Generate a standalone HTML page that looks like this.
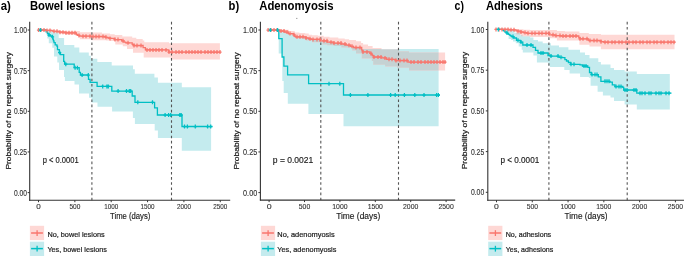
<!DOCTYPE html>
<html><head><meta charset="utf-8"><style>
html,body{margin:0;padding:0;background:#fff;}
svg{display:block;will-change:transform;}
text{font-family:"Liberation Sans",sans-serif;}
</style></head><body>
<svg width="685" height="257" viewBox="0 0 685 257">
<rect width="685" height="257" fill="#fff"/>
<rect x="296.1" y="17.9" width="1.3" height="1" fill="#999"/>
<g>
<polygon points="46.40,30.00 47.50,30.00 47.50,30.80 50.00,30.80 50.00,31.60 53.40,31.60 53.40,32.40 58.70,32.40 58.70,37.90 64.10,37.90 64.10,45.00 74.30,45.00 74.30,47.60 79.30,47.60 79.30,52.60 88.80,52.60 88.80,55.80 90.80,55.80 90.80,58.80 97.30,58.80 97.30,62.00 111.70,62.00 111.70,65.50 133.00,65.50 133.00,69.30 134.80,69.30 134.80,73.70 154.40,73.70 154.40,77.50 157.90,77.50 157.90,82.80 181.80,82.80 181.80,87.20 211.10,87.20 211.10,150.70 181.80,150.70 181.80,137.90 157.90,137.90 157.90,130.60 154.70,130.60 154.70,123.90 134.90,123.90 134.90,117.90 132.90,117.90 132.90,111.60 112.10,111.60 112.10,106.80 97.50,106.80 97.50,102.50 91.60,102.50 91.60,97.80 89.00,97.80 89.00,93.40 79.00,93.40 79.00,84.60 74.50,84.60 74.50,81.10 64.90,81.10 64.90,77.00 64.00,77.00 64.00,70.00 59.00,70.00 59.00,62.40 57.30,62.40 57.30,56.60 54.00,56.60 54.00,47.80 52.30,47.80 52.30,43.20 48.80,43.20 48.80,38.50 47.30,38.50 47.30,34.40 46.40,34.40 46.40,30.00 46.40,30.00" fill="#C4EBEE"/>
<polygon points="38.50,30.00 53.00,30.00 53.00,30.50 60.00,30.50 60.00,31.00 75.80,31.00 75.80,31.10 79.80,31.10 79.80,32.30 91.50,32.30 91.50,32.50 102.00,32.50 102.00,33.40 110.00,33.40 110.00,34.30 114.70,34.30 114.70,34.90 122.30,34.90 122.30,36.40 132.20,36.40 132.20,37.80 136.30,37.80 136.30,39.00 142.70,39.00 142.70,40.50 144.30,40.50 144.30,42.30 169.00,42.30 169.00,43.30 219.90,43.30 219.90,59.60 170.80,59.60 170.80,57.40 143.70,57.40 143.70,52.80 133.00,52.80 133.00,49.00 127.00,49.00 127.00,46.30 122.80,46.30 122.80,44.60 115.30,44.60 115.30,41.00 110.00,41.00 110.00,40.60 106.00,40.60 106.00,40.30 91.50,40.30 91.50,39.30 79.80,39.30 79.80,35.80 75.80,35.80 75.80,34.80 65.00,34.80 65.00,34.00 59.40,34.00 59.40,33.00 53.50,33.00 53.50,31.80 50.00,31.80 50.00,30.80 46.00,30.80 46.00,30.00 38.50,30.00" fill="#FED8D5"/>
<clipPath id="clipa"><polygon points="38.50,30.00 53.00,30.00 53.00,30.50 60.00,30.50 60.00,31.00 75.80,31.00 75.80,31.10 79.80,31.10 79.80,32.30 91.50,32.30 91.50,32.50 102.00,32.50 102.00,33.40 110.00,33.40 110.00,34.30 114.70,34.30 114.70,34.90 122.30,34.90 122.30,36.40 132.20,36.40 132.20,37.80 136.30,37.80 136.30,39.00 142.70,39.00 142.70,40.50 144.30,40.50 144.30,42.30 169.00,42.30 169.00,43.30 219.90,43.30 219.90,59.60 170.80,59.60 170.80,57.40 143.70,57.40 143.70,52.80 133.00,52.80 133.00,49.00 127.00,49.00 127.00,46.30 122.80,46.30 122.80,44.60 115.30,44.60 115.30,41.00 110.00,41.00 110.00,40.60 106.00,40.60 106.00,40.30 91.50,40.30 91.50,39.30 79.80,39.30 79.80,35.80 75.80,35.80 75.80,34.80 65.00,34.80 65.00,34.00 59.40,34.00 59.40,33.00 53.50,33.00 53.50,31.80 50.00,31.80 50.00,30.80 46.00,30.80 46.00,30.00 38.50,30.00"/></clipPath>
<polygon points="46.40,30.00 47.50,30.00 47.50,30.80 50.00,30.80 50.00,31.60 53.40,31.60 53.40,32.40 58.70,32.40 58.70,37.90 64.10,37.90 64.10,45.00 74.30,45.00 74.30,47.60 79.30,47.60 79.30,52.60 88.80,52.60 88.80,55.80 90.80,55.80 90.80,58.80 97.30,58.80 97.30,62.00 111.70,62.00 111.70,65.50 133.00,65.50 133.00,69.30 134.80,69.30 134.80,73.70 154.40,73.70 154.40,77.50 157.90,77.50 157.90,82.80 181.80,82.80 181.80,87.20 211.10,87.20 211.10,150.70 181.80,150.70 181.80,137.90 157.90,137.90 157.90,130.60 154.70,130.60 154.70,123.90 134.90,123.90 134.90,117.90 132.90,117.90 132.90,111.60 112.10,111.60 112.10,106.80 97.50,106.80 97.50,102.50 91.60,102.50 91.60,97.80 89.00,97.80 89.00,93.40 79.00,93.40 79.00,84.60 74.50,84.60 74.50,81.10 64.90,81.10 64.90,77.00 64.00,77.00 64.00,70.00 59.00,70.00 59.00,62.40 57.30,62.40 57.30,56.60 54.00,56.60 54.00,47.80 52.30,47.80 52.30,43.20 48.80,43.20 48.80,38.50 47.30,38.50 47.30,34.40 46.40,34.40 46.40,30.00 46.40,30.00" fill="#C5D2D3" clip-path="url(#clipa)"/>
<line x1="91.9" y1="21.8" x2="91.9" y2="200.2" stroke="#555" stroke-width="1.1" stroke-dasharray="2.6,2.575"/>
<line x1="171.5" y1="21.8" x2="171.5" y2="200.2" stroke="#555" stroke-width="1.1" stroke-dasharray="2.6,2.575"/>
<path d="M38.50,30.00H46.10V31.80H47.50V33.50H48.80V35.00H50.50V36.00H51.70V36.80H52.80V39.10H53.40V40.80H54.00V42.60H55.20V44.90H56.90V46.10H57.50V49.60H59.30V52.50H60.40V54.60H63.70V61.30H64.60V64.20H74.20V67.70H79.20V72.30H80.40V75.00H88.50V79.30H90.10V82.30H97.10V86.40H111.80V91.10H132.20V96.00H135.00V102.30H154.60V107.90H157.40V115.00H182.00V126.50H212.50" fill="none" stroke="#00BFC4" stroke-width="1.3" stroke-linejoin="miter"/>
<path d="M38.50,30.10H45.90V30.40H52.00V30.90H53.50V31.30H59.40V32.20H65.20V32.80H76.30V34.50H77.50V35.40H79.30V36.20H91.50V36.50H105.50V37.30H108.00V38.00H110.00V38.40H114.70V39.60H121.70V40.80H124.00V42.20H125.80V42.80H132.20V44.30H134.00V45.50H143.10V47.60H145.40V49.90H168.80V52.10H220.30" fill="none" stroke="#F8766D" stroke-width="1.3" stroke-linejoin="miter"/>
<path d="M38.50,28.10V32.10M36.90,30.10H40.10M41.00,28.10V32.10M39.40,30.10H42.60M44.00,28.10V32.10M42.40,30.10H45.60M47.00,28.40V32.40M45.40,30.40H48.60M50.00,28.40V32.40M48.40,30.40H51.60M54.00,29.30V33.30M52.40,31.30H55.60M57.00,29.30V33.30M55.40,31.30H58.60M60.00,30.20V34.20M58.40,32.20H61.60M63.00,30.20V34.20M61.40,32.20H64.60M66.00,30.80V34.80M64.40,32.80H67.60M69.00,30.80V34.80M67.40,32.80H70.60M72.00,30.80V34.80M70.40,32.80H73.60M75.00,30.80V34.80M73.40,32.80H76.60M79.00,33.40V37.40M77.40,35.40H80.60M83.00,34.20V38.20M81.40,36.20H84.60M86.00,34.20V38.20M84.40,36.20H87.60M90.00,34.20V38.20M88.40,36.20H91.60M93.00,34.50V38.50M91.40,36.50H94.60M96.00,34.50V38.50M94.40,36.50H97.60M99.00,34.50V38.50M97.40,36.50H100.60M103.00,34.50V38.50M101.40,36.50H104.60M106.00,35.30V39.30M104.40,37.30H107.60M110.00,36.40V40.40M108.40,38.40H111.60M115.00,37.60V41.60M113.40,39.60H116.60M118.00,37.60V41.60M116.40,39.60H119.60M123.00,38.80V42.80M121.40,40.80H124.60M128.00,40.80V44.80M126.40,42.80H129.60M134.00,43.50V47.50M132.40,45.50H135.60M137.00,43.50V47.50M135.40,45.50H138.60M141.00,43.50V47.50M139.40,45.50H142.60M147.00,47.90V51.90M145.40,49.90H148.60M150.00,47.90V51.90M148.40,49.90H151.60M153.00,47.90V51.90M151.40,49.90H154.60M156.00,47.90V51.90M154.40,49.90H157.60M159.00,47.90V51.90M157.40,49.90H160.60M162.00,47.90V51.90M160.40,49.90H163.60M166.00,47.90V51.90M164.40,49.90H167.60M169.00,50.10V54.10M167.40,52.10H170.60M172.00,50.10V54.10M170.40,52.10H173.60M176.00,50.10V54.10M174.40,52.10H177.60M179.00,50.10V54.10M177.40,52.10H180.60M182.00,50.10V54.10M180.40,52.10H183.60M186.00,50.10V54.10M184.40,52.10H187.60M189.00,50.10V54.10M187.40,52.10H190.60M192.00,50.10V54.10M190.40,52.10H193.60M195.00,50.10V54.10M193.40,52.10H196.60M198.00,50.10V54.10M196.40,52.10H199.60M201.00,50.10V54.10M199.40,52.10H202.60M205.00,50.10V54.10M203.40,52.10H206.60M208.00,50.10V54.10M206.40,52.10H209.60M211.00,50.10V54.10M209.40,52.10H212.60M214.00,50.10V54.10M212.40,52.10H215.60M217.00,50.10V54.10M215.40,52.10H218.60M220.00,50.10V54.10M218.40,52.10H221.60" stroke="#F8766D" stroke-width="1.25" fill="none"/>
<path d="M40.30,28.00V32.00M38.70,30.00H41.90M49.00,33.00V37.00M47.40,35.00H50.60M52.50,34.80V38.80M50.90,36.80H54.10M59.60,50.50V54.50M58.00,52.50H61.20M65.80,62.20V66.20M64.20,64.20H67.40M75.10,65.70V69.70M73.50,67.70H76.70M77.40,65.70V69.70M75.80,67.70H79.00M82.10,73.00V77.00M80.50,75.00H83.70M88.30,73.00V77.00M86.70,75.00H89.90M102.70,84.40V88.40M101.10,86.40H104.30M106.90,84.40V88.40M105.30,86.40H108.50M108.30,84.40V88.40M106.70,86.40H109.90M118.10,89.10V93.10M116.50,91.10H119.70M126.50,89.10V93.10M124.90,91.10H128.10M129.30,89.10V93.10M127.70,91.10H130.90M130.70,89.10V93.10M129.10,91.10H132.30M137.80,100.30V104.30M136.20,102.30H139.40M152.50,100.30V104.30M150.90,102.30H154.10M165.10,113.00V117.00M163.50,115.00H166.70M168.60,113.00V117.00M167.00,115.00H170.20M170.70,113.00V117.00M169.10,115.00H172.30M179.80,113.00V117.00M178.20,115.00H181.40M181.20,113.00V117.00M179.60,115.00H182.80M184.50,124.50V128.50M182.90,126.50H186.10M187.40,124.50V128.50M185.80,126.50H189.00M195.30,124.50V128.50M193.70,126.50H196.90M207.60,124.50V128.50M206.00,126.50H209.20M210.70,124.50V128.50M209.10,126.50H212.30" stroke="#00BFC4" stroke-width="1.25" fill="none"/>
<line x1="29.7" y1="21.8" x2="29.7" y2="200.7" stroke="#333" stroke-width="1.1"/>
<line x1="29.2" y1="200.2" x2="230.2" y2="200.2" stroke="#333" stroke-width="1.1"/>
<line x1="27.7" y1="30.0" x2="29.7" y2="30.0" stroke="#333" stroke-width="1"/>
<text x="26.9" y="33.0" font-size="8.3" text-anchor="end" textLength="13" lengthAdjust="spacingAndGlyphs" fill="#333" stroke="#333" stroke-width="0.12">1.00</text>
<line x1="27.7" y1="70.65" x2="29.7" y2="70.65" stroke="#333" stroke-width="1"/>
<text x="26.9" y="73.65" font-size="8.3" text-anchor="end" textLength="13" lengthAdjust="spacingAndGlyphs" fill="#333" stroke="#333" stroke-width="0.12">0.75</text>
<line x1="27.7" y1="111.3" x2="29.7" y2="111.3" stroke="#333" stroke-width="1"/>
<text x="26.9" y="114.3" font-size="8.3" text-anchor="end" textLength="13" lengthAdjust="spacingAndGlyphs" fill="#333" stroke="#333" stroke-width="0.12">0.50</text>
<line x1="27.7" y1="151.95" x2="29.7" y2="151.95" stroke="#333" stroke-width="1"/>
<text x="26.9" y="154.95" font-size="8.3" text-anchor="end" textLength="13" lengthAdjust="spacingAndGlyphs" fill="#333" stroke="#333" stroke-width="0.12">0.25</text>
<line x1="27.7" y1="192.6" x2="29.7" y2="192.6" stroke="#333" stroke-width="1"/>
<text x="26.9" y="195.6" font-size="8.3" text-anchor="end" textLength="13" lengthAdjust="spacingAndGlyphs" fill="#333" stroke="#333" stroke-width="0.12">0.00</text>
<line x1="38.5" y1="200.2" x2="38.5" y2="202.2" stroke="#333" stroke-width="1"/>
<text x="38.5" y="208.8" font-size="8" text-anchor="middle" textLength="4.5" lengthAdjust="spacingAndGlyphs" fill="#333" stroke="#333" stroke-width="0.12">0</text>
<line x1="74.85" y1="200.2" x2="74.85" y2="202.2" stroke="#333" stroke-width="1"/>
<text x="74.85" y="208.8" font-size="8" text-anchor="middle" textLength="10.9" lengthAdjust="spacingAndGlyphs" fill="#333" stroke="#333" stroke-width="0.12">500</text>
<line x1="111.2" y1="200.2" x2="111.2" y2="202.2" stroke="#333" stroke-width="1"/>
<text x="111.2" y="208.8" font-size="8" text-anchor="middle" textLength="14.0" lengthAdjust="spacingAndGlyphs" fill="#333" stroke="#333" stroke-width="0.12">1000</text>
<line x1="147.55" y1="200.2" x2="147.55" y2="202.2" stroke="#333" stroke-width="1"/>
<text x="147.55" y="208.8" font-size="8" text-anchor="middle" textLength="14.0" lengthAdjust="spacingAndGlyphs" fill="#333" stroke="#333" stroke-width="0.12">1500</text>
<line x1="183.9" y1="200.2" x2="183.9" y2="202.2" stroke="#333" stroke-width="1"/>
<text x="183.9" y="208.8" font-size="8" text-anchor="middle" textLength="14.0" lengthAdjust="spacingAndGlyphs" fill="#333" stroke="#333" stroke-width="0.12">2000</text>
<line x1="220.25" y1="200.2" x2="220.25" y2="202.2" stroke="#333" stroke-width="1"/>
<text x="220.25" y="208.8" font-size="8" text-anchor="middle" textLength="14.0" lengthAdjust="spacingAndGlyphs" fill="#333" stroke="#333" stroke-width="0.12">2500</text>
<text x="130.2" y="219.2" font-size="8.5" text-anchor="middle" textLength="40.3" lengthAdjust="spacingAndGlyphs" fill="#1a1a1a" stroke="#1a1a1a" stroke-width="0.15">Time (days)</text>
<text transform="translate(10.7,169.6) rotate(-90)" x="0" y="0" font-size="7.7" fill="#1a1a1a" stroke="#1a1a1a" stroke-width="0.2" textLength="117.6" lengthAdjust="spacingAndGlyphs">Probability of no repeat surgery</text>
<text x="42.7" y="163.1" font-size="8.6" textLength="35.9" lengthAdjust="spacingAndGlyphs" fill="#1a1a1a" stroke="#1a1a1a" stroke-width="0.15">p &lt; 0.0001</text>
<text x="0.8" y="10.1" font-size="12" font-weight="bold" textLength="10.1" lengthAdjust="spacingAndGlyphs" fill="#000">a)</text>
<text x="29.9" y="10.1" font-size="12" font-weight="bold" textLength="75.0" lengthAdjust="spacingAndGlyphs" fill="#000">Bowel lesions</text>
<rect x="29.9" y="225.8" width="14.2" height="14.3" fill="#FED8D5"/>
<rect x="29.9" y="241.7" width="14.2" height="14.3" fill="#C4EBEE"/>
<line x1="31.099999999999998" y1="233" x2="42.9" y2="233" stroke="#F8766D" stroke-width="1.5"/>
<line x1="37.1" y1="230.2" x2="37.1" y2="236" stroke="#F8766D" stroke-width="1.3"/>
<line x1="31.099999999999998" y1="248.6" x2="42.9" y2="248.6" stroke="#00BFC4" stroke-width="1.5"/>
<line x1="37.1" y1="245.8" x2="37.1" y2="251.6" stroke="#00BFC4" stroke-width="1.3"/>
<text x="47.4" y="236.6" font-size="7.6" textLength="57.3" lengthAdjust="spacingAndGlyphs" fill="#1a1a1a" stroke="#1a1a1a" stroke-width="0.2">No, bowel lesions</text>
<text x="47.4" y="252.3" font-size="7.6" textLength="59.5" lengthAdjust="spacingAndGlyphs" fill="#1a1a1a" stroke="#1a1a1a" stroke-width="0.2">Yes, bowel lesions</text>
</g>
<g>
<polygon points="278.60,30.00 280.00,30.00 280.00,31.50 285.30,31.50 285.30,33.00 288.80,33.00 288.80,34.50 293.50,34.50 293.50,35.50 295.30,35.50 295.30,37.00 305.80,37.00 305.80,38.30 311.00,38.30 311.00,39.50 320.20,39.50 320.20,40.90 327.20,40.90 327.20,42.20 333.60,42.20 333.60,43.10 341.20,43.10 341.20,44.00 346.20,44.00 346.20,45.20 350.50,45.20 350.50,46.30 353.50,46.30 353.50,47.50 361.70,47.50 361.70,49.00 438.60,49.00 438.60,126.20 343.50,126.20 343.50,113.90 308.40,113.90 308.40,103.80 287.80,103.80 287.80,93.10 283.70,93.10 283.70,80.90 282.30,80.90 282.30,53.60 278.70,53.60 278.70,30.00 278.60,30.00" fill="#C4EBEE"/>
<polygon points="268.10,30.00 279.50,30.00 279.50,29.50 284.80,29.50 284.80,29.80 288.80,29.80 288.80,31.00 294.70,31.00 294.70,32.40 299.40,32.40 299.40,33.00 305.20,33.00 305.20,33.60 308.70,33.60 308.70,34.80 312.00,34.80 312.00,35.20 317.80,35.20 317.80,35.80 323.70,35.80 323.70,36.70 329.50,36.70 329.50,37.50 338.30,37.50 338.30,38.40 344.70,38.40 344.70,39.30 349.10,39.30 349.10,40.00 356.00,40.00 356.00,41.30 361.10,41.30 361.10,43.00 363.10,43.00 363.10,44.40 368.00,44.40 368.00,46.00 372.60,46.00 372.60,48.10 381.50,48.10 381.50,49.50 398.40,49.50 398.40,51.30 409.00,51.30 409.00,52.60 445.10,52.60 445.10,70.40 409.00,70.40 409.00,67.80 397.10,67.80 397.10,66.50 385.10,66.50 385.10,64.70 373.20,64.70 373.20,61.00 371.80,61.00 371.80,58.40 361.70,58.40 361.70,53.40 356.00,53.40 356.00,50.50 352.20,50.50 352.20,47.60 341.30,47.60 341.30,46.00 333.60,46.00 333.60,45.20 327.30,45.20 327.30,44.50 322.50,44.50 322.50,42.20 312.00,42.20 312.00,40.50 305.80,40.50 305.80,38.50 295.30,38.50 295.30,37.00 293.50,37.00 293.50,35.00 288.30,35.00 288.30,33.50 284.80,33.50 284.80,32.00 279.50,32.00 279.50,30.00 268.10,30.00" fill="#FED8D5"/>
<clipPath id="clipb"><polygon points="268.10,30.00 279.50,30.00 279.50,29.50 284.80,29.50 284.80,29.80 288.80,29.80 288.80,31.00 294.70,31.00 294.70,32.40 299.40,32.40 299.40,33.00 305.20,33.00 305.20,33.60 308.70,33.60 308.70,34.80 312.00,34.80 312.00,35.20 317.80,35.20 317.80,35.80 323.70,35.80 323.70,36.70 329.50,36.70 329.50,37.50 338.30,37.50 338.30,38.40 344.70,38.40 344.70,39.30 349.10,39.30 349.10,40.00 356.00,40.00 356.00,41.30 361.10,41.30 361.10,43.00 363.10,43.00 363.10,44.40 368.00,44.40 368.00,46.00 372.60,46.00 372.60,48.10 381.50,48.10 381.50,49.50 398.40,49.50 398.40,51.30 409.00,51.30 409.00,52.60 445.10,52.60 445.10,70.40 409.00,70.40 409.00,67.80 397.10,67.80 397.10,66.50 385.10,66.50 385.10,64.70 373.20,64.70 373.20,61.00 371.80,61.00 371.80,58.40 361.70,58.40 361.70,53.40 356.00,53.40 356.00,50.50 352.20,50.50 352.20,47.60 341.30,47.60 341.30,46.00 333.60,46.00 333.60,45.20 327.30,45.20 327.30,44.50 322.50,44.50 322.50,42.20 312.00,42.20 312.00,40.50 305.80,40.50 305.80,38.50 295.30,38.50 295.30,37.00 293.50,37.00 293.50,35.00 288.30,35.00 288.30,33.50 284.80,33.50 284.80,32.00 279.50,32.00 279.50,30.00 268.10,30.00"/></clipPath>
<polygon points="278.60,30.00 280.00,30.00 280.00,31.50 285.30,31.50 285.30,33.00 288.80,33.00 288.80,34.50 293.50,34.50 293.50,35.50 295.30,35.50 295.30,37.00 305.80,37.00 305.80,38.30 311.00,38.30 311.00,39.50 320.20,39.50 320.20,40.90 327.20,40.90 327.20,42.20 333.60,42.20 333.60,43.10 341.20,43.10 341.20,44.00 346.20,44.00 346.20,45.20 350.50,45.20 350.50,46.30 353.50,46.30 353.50,47.50 361.70,47.50 361.70,49.00 438.60,49.00 438.60,126.20 343.50,126.20 343.50,113.90 308.40,113.90 308.40,103.80 287.80,103.80 287.80,93.10 283.70,93.10 283.70,80.90 282.30,80.90 282.30,53.60 278.70,53.60 278.70,30.00 278.60,30.00" fill="#C5D2D3" clip-path="url(#clipb)"/>
<line x1="320.8" y1="21.8" x2="320.8" y2="200.1" stroke="#555" stroke-width="1.1" stroke-dasharray="2.6,2.575"/>
<line x1="398.5" y1="21.8" x2="398.5" y2="200.1" stroke="#555" stroke-width="1.1" stroke-dasharray="2.6,2.575"/>
<path d="M269.90,30.00H278.80V38.60H282.10V57.00H283.90V66.10H287.60V74.80H308.60V83.70H343.50V95.00H440.00" fill="none" stroke="#00BFC4" stroke-width="1.3" stroke-linejoin="miter"/>
<path d="M268.10,30.00H279.50V31.00H284.80V32.10H288.30V33.60H293.50V34.80H294.70V36.20H295.30V36.80H305.80V38.00H308.70V38.80H311.00V39.40H320.20V40.80H327.20V42.20H333.60V43.10H341.20V44.00H346.20V45.20H350.50V46.30H353.50V47.50H361.70V50.20H362.80V51.90H369.90V53.40H371.20V54.50H372.30V55.50H373.50V57.00H381.50V57.90H386.70V59.30H395.50V60.50H408.00V62.10H446.00" fill="none" stroke="#F8766D" stroke-width="1.3" stroke-linejoin="miter"/>
<path d="M268.10,28.00V32.00M266.50,30.00H269.70M271.00,28.00V32.00M269.40,30.00H272.60M274.00,28.00V32.00M272.40,30.00H275.60M277.00,28.00V32.00M275.40,30.00H278.60M281.00,29.00V33.00M279.40,31.00H282.60M284.00,29.00V33.00M282.40,31.00H285.60M287.00,30.10V34.10M285.40,32.10H288.60M290.00,31.60V35.60M288.40,33.60H291.60M294.00,32.80V36.80M292.40,34.80H295.60M297.00,34.80V38.80M295.40,36.80H298.60M300.00,34.80V38.80M298.40,36.80H301.60M303.00,34.80V38.80M301.40,36.80H304.60M306.00,36.00V40.00M304.40,38.00H307.60M310.00,36.80V40.80M308.40,38.80H311.60M313.00,37.40V41.40M311.40,39.40H314.60M317.00,37.40V41.40M315.40,39.40H318.60M320.00,37.40V41.40M318.40,39.40H321.60M324.00,38.80V42.80M322.40,40.80H325.60M327.00,38.80V42.80M325.40,40.80H328.60M331.00,40.20V44.20M329.40,42.20H332.60M334.00,41.10V45.10M332.40,43.10H335.60M338.00,41.10V45.10M336.40,43.10H339.60M341.00,41.10V45.10M339.40,43.10H342.60M345.00,42.00V46.00M343.40,44.00H346.60M349.00,43.20V47.20M347.40,45.20H350.60M352.00,44.30V48.30M350.40,46.30H353.60M356.00,45.50V49.50M354.40,47.50H357.60M360.00,45.50V49.50M358.40,47.50H361.60M363.00,49.90V53.90M361.40,51.90H364.60M367.00,49.90V53.90M365.40,51.90H368.60M371.00,51.40V55.40M369.40,53.40H372.60M374.00,55.00V59.00M372.40,57.00H375.60M378.00,55.00V59.00M376.40,57.00H379.60M381.00,55.00V59.00M379.40,57.00H382.60M385.00,55.90V59.90M383.40,57.90H386.60M389.00,57.30V61.30M387.40,59.30H390.60M392.00,57.30V61.30M390.40,59.30H393.60M396.00,58.50V62.50M394.40,60.50H397.60M400.00,58.50V62.50M398.40,60.50H401.60M404.00,58.50V62.50M402.40,60.50H405.60M407.00,58.50V62.50M405.40,60.50H408.60M411.00,60.10V64.10M409.40,62.10H412.60M414.00,60.10V64.10M412.40,62.10H415.60M418.00,60.10V64.10M416.40,62.10H419.60M421.00,60.10V64.10M419.40,62.10H422.60M425.00,60.10V64.10M423.40,62.10H426.60M428.00,60.10V64.10M426.40,62.10H429.60M431.00,60.10V64.10M429.40,62.10H432.60M434.00,60.10V64.10M432.40,62.10H435.60M437.00,60.10V64.10M435.40,62.10H438.60M440.00,60.10V64.10M438.40,62.10H441.60M443.00,60.10V64.10M441.40,62.10H444.60M445.00,60.10V64.10M443.40,62.10H446.60" stroke="#F8766D" stroke-width="1.25" fill="none"/>
<path d="M270.30,28.00V32.00M268.70,30.00H271.90M277.60,28.00V32.00M276.00,30.00H279.20M329.00,81.70V85.70M327.40,83.70H330.60M339.80,81.70V85.70M338.20,83.70H341.40M350.40,93.00V97.00M348.80,95.00H352.00M367.90,93.00V97.00M366.30,95.00H369.50M390.60,93.00V97.00M389.00,95.00H392.20M395.20,93.00V97.00M393.60,95.00H396.80M404.40,93.00V97.00M402.80,95.00H406.00M414.80,93.00V97.00M413.20,95.00H416.40M424.00,93.00V97.00M422.40,95.00H425.60M436.60,93.00V97.00M435.00,95.00H438.20M438.40,93.00V97.00M436.80,95.00H440.00" stroke="#00BFC4" stroke-width="1.25" fill="none"/>
<line x1="260.4" y1="21.8" x2="260.4" y2="200.6" stroke="#333" stroke-width="1.1"/>
<line x1="259.9" y1="200.1" x2="455.2" y2="200.1" stroke="#333" stroke-width="1.1"/>
<line x1="258.4" y1="30.0" x2="260.4" y2="30.0" stroke="#333" stroke-width="1"/>
<text x="257.2" y="33.0" font-size="8.3" text-anchor="end" textLength="14.1" lengthAdjust="spacingAndGlyphs" fill="#333" stroke="#333" stroke-width="0.12">1.00</text>
<line x1="258.4" y1="70.65" x2="260.4" y2="70.65" stroke="#333" stroke-width="1"/>
<text x="257.2" y="73.65" font-size="8.3" text-anchor="end" textLength="14.1" lengthAdjust="spacingAndGlyphs" fill="#333" stroke="#333" stroke-width="0.12">0.75</text>
<line x1="258.4" y1="111.3" x2="260.4" y2="111.3" stroke="#333" stroke-width="1"/>
<text x="257.2" y="114.3" font-size="8.3" text-anchor="end" textLength="14.1" lengthAdjust="spacingAndGlyphs" fill="#333" stroke="#333" stroke-width="0.12">0.50</text>
<line x1="258.4" y1="151.95" x2="260.4" y2="151.95" stroke="#333" stroke-width="1"/>
<text x="257.2" y="154.95" font-size="8.3" text-anchor="end" textLength="14.1" lengthAdjust="spacingAndGlyphs" fill="#333" stroke="#333" stroke-width="0.12">0.25</text>
<line x1="258.4" y1="192.6" x2="260.4" y2="192.6" stroke="#333" stroke-width="1"/>
<text x="257.2" y="195.6" font-size="8.3" text-anchor="end" textLength="14.1" lengthAdjust="spacingAndGlyphs" fill="#333" stroke="#333" stroke-width="0.12">0.00</text>
<line x1="269.1" y1="200.1" x2="269.1" y2="202.1" stroke="#333" stroke-width="1"/>
<text x="269.1" y="208.8" font-size="8" text-anchor="middle" textLength="4.9" lengthAdjust="spacingAndGlyphs" fill="#333" stroke="#333" stroke-width="0.12">0</text>
<line x1="304.5" y1="200.1" x2="304.5" y2="202.1" stroke="#333" stroke-width="1"/>
<text x="304.5" y="208.8" font-size="8" text-anchor="middle" textLength="11.4" lengthAdjust="spacingAndGlyphs" fill="#333" stroke="#333" stroke-width="0.12">500</text>
<line x1="339.9" y1="200.1" x2="339.9" y2="202.1" stroke="#333" stroke-width="1"/>
<text x="339.9" y="208.8" font-size="8" text-anchor="middle" textLength="15.3" lengthAdjust="spacingAndGlyphs" fill="#333" stroke="#333" stroke-width="0.12">1000</text>
<line x1="375.3" y1="200.1" x2="375.3" y2="202.1" stroke="#333" stroke-width="1"/>
<text x="375.3" y="208.8" font-size="8" text-anchor="middle" textLength="15.3" lengthAdjust="spacingAndGlyphs" fill="#333" stroke="#333" stroke-width="0.12">1500</text>
<line x1="410.7" y1="200.1" x2="410.7" y2="202.1" stroke="#333" stroke-width="1"/>
<text x="410.7" y="208.8" font-size="8" text-anchor="middle" textLength="15.3" lengthAdjust="spacingAndGlyphs" fill="#333" stroke="#333" stroke-width="0.12">2000</text>
<line x1="446.1" y1="200.1" x2="446.1" y2="202.1" stroke="#333" stroke-width="1"/>
<text x="446.1" y="208.8" font-size="8" text-anchor="middle" textLength="15.3" lengthAdjust="spacingAndGlyphs" fill="#333" stroke="#333" stroke-width="0.12">2500</text>
<text x="358.2" y="219.2" font-size="8.5" text-anchor="middle" textLength="44.0" lengthAdjust="spacingAndGlyphs" fill="#1a1a1a" stroke="#1a1a1a" stroke-width="0.15">Time (days)</text>
<text transform="translate(239.0,169.6) rotate(-90)" x="0" y="0" font-size="7.7" fill="#1a1a1a" stroke="#1a1a1a" stroke-width="0.2" textLength="117.3" lengthAdjust="spacingAndGlyphs">Probability of no repeat surgery</text>
<text x="272.8" y="163.1" font-size="8.6" textLength="40.5" lengthAdjust="spacingAndGlyphs" fill="#1a1a1a" stroke="#1a1a1a" stroke-width="0.15">p = 0.0021</text>
<text x="228.6" y="10.1" font-size="12" font-weight="bold" textLength="10.6" lengthAdjust="spacingAndGlyphs" fill="#000">b)</text>
<text x="259.2" y="10.1" font-size="12" font-weight="bold" textLength="74.4" lengthAdjust="spacingAndGlyphs" fill="#000">Adenomyosis</text>
<rect x="260.9" y="225.8" width="14.2" height="14.3" fill="#FED8D5"/>
<rect x="260.9" y="241.7" width="14.2" height="14.3" fill="#C4EBEE"/>
<line x1="262.09999999999997" y1="233" x2="273.9" y2="233" stroke="#F8766D" stroke-width="1.5"/>
<line x1="268.09999999999997" y1="230.2" x2="268.09999999999997" y2="236" stroke="#F8766D" stroke-width="1.3"/>
<line x1="262.09999999999997" y1="248.6" x2="273.9" y2="248.6" stroke="#00BFC4" stroke-width="1.5"/>
<line x1="268.09999999999997" y1="245.8" x2="268.09999999999997" y2="251.6" stroke="#00BFC4" stroke-width="1.3"/>
<text x="277.29999999999995" y="236.6" font-size="7.6" textLength="57.4" lengthAdjust="spacingAndGlyphs" fill="#1a1a1a" stroke="#1a1a1a" stroke-width="0.2">No, adenomyosis</text>
<text x="277.29999999999995" y="252.3" font-size="7.6" textLength="59.1" lengthAdjust="spacingAndGlyphs" fill="#1a1a1a" stroke="#1a1a1a" stroke-width="0.2">Yes, adenomyosis</text>
</g>
<g>
<polygon points="503.30,29.40 506.00,29.40 506.00,29.80 510.40,29.80 510.40,30.60 514.40,30.60 514.40,32.80 520.30,32.80 520.30,35.20 522.60,35.20 522.60,36.30 530.00,36.30 530.00,37.50 533.40,37.50 533.40,40.00 538.00,40.00 538.00,41.50 542.70,41.50 542.70,43.30 550.90,43.30 550.90,45.60 559.00,45.60 559.00,47.30 568.40,47.30 568.40,49.70 580.00,49.70 580.00,52.60 585.00,52.60 585.00,55.00 589.50,55.00 589.50,58.20 598.30,58.20 598.30,62.00 600.90,62.00 600.90,64.60 610.50,64.60 610.50,68.10 614.00,68.10 614.00,69.90 624.60,69.90 624.60,71.60 636.80,71.60 636.80,73.90 669.80,73.90 669.80,109.40 636.80,109.40 636.80,104.60 624.60,104.60 624.60,101.10 614.00,101.10 614.00,97.60 610.50,97.60 610.50,95.60 602.90,95.60 602.90,91.80 597.60,91.80 597.60,85.70 590.60,85.70 590.60,77.80 588.90,77.80 588.90,76.90 580.10,76.90 580.10,73.40 569.60,73.40 569.60,69.90 564.30,69.90 564.30,67.00 550.00,67.00 550.00,65.40 548.50,65.40 548.50,62.50 536.90,62.50 536.90,55.50 533.40,55.50 533.40,52.60 522.80,52.60 522.80,49.70 521.70,49.70 521.70,46.50 518.70,46.50 518.70,43.30 515.80,43.30 515.80,41.50 513.00,41.50 513.00,40.00 511.00,40.00 511.00,39.00 508.60,39.00 508.60,35.10 506.30,35.10 506.30,31.60 504.00,31.60 504.00,29.40 503.30,29.40" fill="#C4EBEE"/>
<polygon points="496.00,29.40 514.00,29.40 514.00,29.20 523.40,29.20 523.40,29.80 530.00,29.80 530.00,30.10 556.90,30.10 556.90,31.00 565.00,31.00 565.00,31.50 579.40,31.50 579.40,32.90 588.80,32.90 588.80,34.10 601.00,34.10 601.00,34.80 674.50,34.80 674.50,49.20 600.90,49.20 600.90,46.50 589.50,46.50 589.50,44.80 579.40,44.80 579.40,40.60 556.90,40.60 556.90,38.30 549.90,38.30 549.90,37.10 530.00,37.10 530.00,36.30 520.90,36.30 520.90,34.50 516.20,34.50 516.20,32.00 514.00,32.00 514.00,30.60 509.30,30.60 509.30,29.40 496.00,29.40" fill="#FED8D5"/>
<clipPath id="clipc"><polygon points="496.00,29.40 514.00,29.40 514.00,29.20 523.40,29.20 523.40,29.80 530.00,29.80 530.00,30.10 556.90,30.10 556.90,31.00 565.00,31.00 565.00,31.50 579.40,31.50 579.40,32.90 588.80,32.90 588.80,34.10 601.00,34.10 601.00,34.80 674.50,34.80 674.50,49.20 600.90,49.20 600.90,46.50 589.50,46.50 589.50,44.80 579.40,44.80 579.40,40.60 556.90,40.60 556.90,38.30 549.90,38.30 549.90,37.10 530.00,37.10 530.00,36.30 520.90,36.30 520.90,34.50 516.20,34.50 516.20,32.00 514.00,32.00 514.00,30.60 509.30,30.60 509.30,29.40 496.00,29.40"/></clipPath>
<polygon points="503.30,29.40 506.00,29.40 506.00,29.80 510.40,29.80 510.40,30.60 514.40,30.60 514.40,32.80 520.30,32.80 520.30,35.20 522.60,35.20 522.60,36.30 530.00,36.30 530.00,37.50 533.40,37.50 533.40,40.00 538.00,40.00 538.00,41.50 542.70,41.50 542.70,43.30 550.90,43.30 550.90,45.60 559.00,45.60 559.00,47.30 568.40,47.30 568.40,49.70 580.00,49.70 580.00,52.60 585.00,52.60 585.00,55.00 589.50,55.00 589.50,58.20 598.30,58.20 598.30,62.00 600.90,62.00 600.90,64.60 610.50,64.60 610.50,68.10 614.00,68.10 614.00,69.90 624.60,69.90 624.60,71.60 636.80,71.60 636.80,73.90 669.80,73.90 669.80,109.40 636.80,109.40 636.80,104.60 624.60,104.60 624.60,101.10 614.00,101.10 614.00,97.60 610.50,97.60 610.50,95.60 602.90,95.60 602.90,91.80 597.60,91.80 597.60,85.70 590.60,85.70 590.60,77.80 588.90,77.80 588.90,76.90 580.10,76.90 580.10,73.40 569.60,73.40 569.60,69.90 564.30,69.90 564.30,67.00 550.00,67.00 550.00,65.40 548.50,65.40 548.50,62.50 536.90,62.50 536.90,55.50 533.40,55.50 533.40,52.60 522.80,52.60 522.80,49.70 521.70,49.70 521.70,46.50 518.70,46.50 518.70,43.30 515.80,43.30 515.80,41.50 513.00,41.50 513.00,40.00 511.00,40.00 511.00,39.00 508.60,39.00 508.60,35.10 506.30,35.10 506.30,31.60 504.00,31.60 504.00,29.40 503.30,29.40" fill="#C5D2D3" clip-path="url(#clipc)"/>
<line x1="548.9" y1="21.8" x2="548.9" y2="200.3" stroke="#555" stroke-width="1.1" stroke-dasharray="2.6,2.575"/>
<line x1="627.2" y1="21.8" x2="627.2" y2="200.3" stroke="#555" stroke-width="1.1" stroke-dasharray="2.6,2.575"/>
<path d="M498.40,29.40H503.00V30.30H504.00V31.20H505.00V32.00H506.20V32.80H507.30V33.60H508.40V34.40H509.50V35.10H510.60V35.80H511.80V36.60H513.80V38.00H516.50V40.30H520.50V42.10H522.80V45.00H533.00V47.30H535.50V50.30H538.00V53.00H548.00V55.50H550.90V56.10H559.00V57.30H562.60V57.60H564.90V59.60H566.50V61.00H568.40V62.50H570.70V64.30H580.00V64.90H582.40V66.00H587.80V67.30H589.50V72.50H591.30V74.60H598.30V76.90H600.90V81.30H609.70V82.20H612.30V84.80H614.90V86.50H622.80V87.40H623.70V90.00H636.80V93.20H671.50" fill="none" stroke="#00BFC4" stroke-width="1.3" stroke-linejoin="miter"/>
<path d="M496.00,29.40H508.60V29.80H516.20V30.60H518.00V31.20H520.90V32.00H523.40V32.60H527.00V33.30H549.30V34.80H555.10V35.60H561.00V36.00H578.80V37.60H580.00V38.80H588.20V40.20H589.40V40.50H601.00V41.70H603.40V42.20H675.40" fill="none" stroke="#F8766D" stroke-width="1.3" stroke-linejoin="miter"/>
<path d="M496.00,27.40V31.40M494.40,29.40H497.60M499.00,27.40V31.40M497.40,29.40H500.60M502.00,27.40V31.40M500.40,29.40H503.60M505.00,27.40V31.40M503.40,29.40H506.60M508.00,27.40V31.40M506.40,29.40H509.60M511.00,27.80V31.80M509.40,29.80H512.60M514.00,27.80V31.80M512.40,29.80H515.60M518.00,29.20V33.20M516.40,31.20H519.60M521.00,30.00V34.00M519.40,32.00H522.60M525.00,30.60V34.60M523.40,32.60H526.60M528.00,31.30V35.30M526.40,33.30H529.60M532.00,31.30V35.30M530.40,33.30H533.60M535.00,31.30V35.30M533.40,33.30H536.60M539.00,31.30V35.30M537.40,33.30H540.60M542.00,31.30V35.30M540.40,33.30H543.60M546.00,31.30V35.30M544.40,33.30H547.60M549.00,31.30V35.30M547.40,33.30H550.60M553.00,32.80V36.80M551.40,34.80H554.60M556.00,33.60V37.60M554.40,35.60H557.60M560.00,33.60V37.60M558.40,35.60H561.60M563.00,34.00V38.00M561.40,36.00H564.60M566.00,34.00V38.00M564.40,36.00H567.60M570.00,34.00V38.00M568.40,36.00H571.60M573.00,34.00V38.00M571.40,36.00H574.60M576.00,34.00V38.00M574.40,36.00H577.60M580.00,36.80V40.80M578.40,38.80H581.60M583.00,36.80V40.80M581.40,38.80H584.60M587.00,36.80V40.80M585.40,38.80H588.60M590.00,38.50V42.50M588.40,40.50H591.60M594.00,38.50V42.50M592.40,40.50H595.60M597.00,38.50V42.50M595.40,40.50H598.60M601.00,39.70V43.70M599.40,41.70H602.60M605.00,40.20V44.20M603.40,42.20H606.60M608.00,40.20V44.20M606.40,42.20H609.60M612.00,40.20V44.20M610.40,42.20H613.60M615.00,40.20V44.20M613.40,42.20H616.60M619.00,40.20V44.20M617.40,42.20H620.60M622.00,40.20V44.20M620.40,42.20H623.60M626.00,40.20V44.20M624.40,42.20H627.60M629.00,40.20V44.20M627.40,42.20H630.60M633.00,40.20V44.20M631.40,42.20H634.60M636.00,40.20V44.20M634.40,42.20H637.60M640.00,40.20V44.20M638.40,42.20H641.60M643.00,40.20V44.20M641.40,42.20H644.60M647.00,40.20V44.20M645.40,42.20H648.60M650.00,40.20V44.20M648.40,42.20H651.60M654.00,40.20V44.20M652.40,42.20H655.60M657.00,40.20V44.20M655.40,42.20H658.60M661.00,40.20V44.20M659.40,42.20H662.60M664.00,40.20V44.20M662.40,42.20H665.60M668.00,40.20V44.20M666.40,42.20H669.60M671.00,40.20V44.20M669.40,42.20H672.60M674.00,40.20V44.20M672.40,42.20H675.60" stroke="#F8766D" stroke-width="1.25" fill="none"/>
<path d="M498.30,27.40V31.40M496.70,29.40H499.90M507.00,30.80V34.80M505.40,32.80H508.60M513.00,34.60V38.60M511.40,36.60H514.60M518.00,38.30V42.30M516.40,40.30H519.60M521.00,40.10V44.10M519.40,42.10H522.60M527.00,43.00V47.00M525.40,45.00H528.60M531.00,43.00V47.00M529.40,45.00H532.60M541.00,51.00V55.00M539.40,53.00H542.60M543.00,51.00V55.00M541.40,53.00H544.60M551.00,54.10V58.10M549.40,56.10H552.60M558.00,54.10V58.10M556.40,56.10H559.60M561.00,55.30V59.30M559.40,57.30H562.60M571.00,62.30V66.30M569.40,64.30H572.60M574.00,62.30V66.30M572.40,64.30H575.60M584.00,64.00V68.00M582.40,66.00H585.60M586.00,64.00V68.00M584.40,66.00H587.60M592.00,72.60V76.60M590.40,74.60H593.60M595.00,72.60V76.60M593.40,74.60H596.60M597.00,72.60V76.60M595.40,74.60H598.60M605.00,79.30V83.30M603.40,81.30H606.60M607.00,79.30V83.30M605.40,81.30H608.60M609.00,79.30V83.30M607.40,81.30H610.60M616.00,84.50V88.50M614.40,86.50H617.60M619.00,84.50V88.50M617.40,86.50H620.60M621.00,84.50V88.50M619.40,86.50H622.60M625.00,88.00V92.00M623.40,90.00H626.60M627.00,88.00V92.00M625.40,90.00H628.60M634.00,88.00V92.00M632.40,90.00H635.60M636.00,88.00V92.00M634.40,90.00H637.60M640.00,91.20V95.20M638.40,93.20H641.60M642.00,91.20V95.20M640.40,93.20H643.60M645.00,91.20V95.20M643.40,93.20H646.60M649.00,91.20V95.20M647.40,93.20H650.60M651.00,91.20V95.20M649.40,93.20H652.60M656.00,91.20V95.20M654.40,93.20H657.60M659.00,91.20V95.20M657.40,93.20H660.60M661.00,91.20V95.20M659.40,93.20H662.60M666.00,91.20V95.20M664.40,93.20H667.60M669.00,91.20V95.20M667.40,93.20H670.60" stroke="#00BFC4" stroke-width="1.25" fill="none"/>
<line x1="487.8" y1="21.8" x2="487.8" y2="200.8" stroke="#333" stroke-width="1.1"/>
<line x1="487.3" y1="200.3" x2="684" y2="200.3" stroke="#333" stroke-width="1.1"/>
<line x1="485.8" y1="29.5" x2="487.8" y2="29.5" stroke="#333" stroke-width="1"/>
<text x="484.2" y="32.5" font-size="8.3" text-anchor="end" textLength="13.3" lengthAdjust="spacingAndGlyphs" fill="#333" stroke="#333" stroke-width="0.12">1.00</text>
<line x1="485.8" y1="70.2" x2="487.8" y2="70.2" stroke="#333" stroke-width="1"/>
<text x="484.2" y="73.2" font-size="8.3" text-anchor="end" textLength="13.3" lengthAdjust="spacingAndGlyphs" fill="#333" stroke="#333" stroke-width="0.12">0.75</text>
<line x1="485.8" y1="110.9" x2="487.8" y2="110.9" stroke="#333" stroke-width="1"/>
<text x="484.2" y="113.9" font-size="8.3" text-anchor="end" textLength="13.3" lengthAdjust="spacingAndGlyphs" fill="#333" stroke="#333" stroke-width="0.12">0.50</text>
<line x1="485.8" y1="151.6" x2="487.8" y2="151.6" stroke="#333" stroke-width="1"/>
<text x="484.2" y="154.6" font-size="8.3" text-anchor="end" textLength="13.3" lengthAdjust="spacingAndGlyphs" fill="#333" stroke="#333" stroke-width="0.12">0.25</text>
<line x1="485.8" y1="192.3" x2="487.8" y2="192.3" stroke="#333" stroke-width="1"/>
<text x="484.2" y="195.3" font-size="8.3" text-anchor="end" textLength="13.3" lengthAdjust="spacingAndGlyphs" fill="#333" stroke="#333" stroke-width="0.12">0.00</text>
<line x1="496.5" y1="200.3" x2="496.5" y2="202.3" stroke="#333" stroke-width="1"/>
<text x="496.5" y="208.8" font-size="8" text-anchor="middle" textLength="4.8" lengthAdjust="spacingAndGlyphs" fill="#333" stroke="#333" stroke-width="0.12">0</text>
<line x1="532.28" y1="200.3" x2="532.28" y2="202.3" stroke="#333" stroke-width="1"/>
<text x="532.28" y="208.8" font-size="8" text-anchor="middle" textLength="11.3" lengthAdjust="spacingAndGlyphs" fill="#333" stroke="#333" stroke-width="0.12">500</text>
<line x1="568.06" y1="200.3" x2="568.06" y2="202.3" stroke="#333" stroke-width="1"/>
<text x="568.06" y="208.8" font-size="8" text-anchor="middle" textLength="15.1" lengthAdjust="spacingAndGlyphs" fill="#333" stroke="#333" stroke-width="0.12">1000</text>
<line x1="603.84" y1="200.3" x2="603.84" y2="202.3" stroke="#333" stroke-width="1"/>
<text x="603.84" y="208.8" font-size="8" text-anchor="middle" textLength="15.1" lengthAdjust="spacingAndGlyphs" fill="#333" stroke="#333" stroke-width="0.12">1500</text>
<line x1="639.62" y1="200.3" x2="639.62" y2="202.3" stroke="#333" stroke-width="1"/>
<text x="639.62" y="208.8" font-size="8" text-anchor="middle" textLength="15.1" lengthAdjust="spacingAndGlyphs" fill="#333" stroke="#333" stroke-width="0.12">2000</text>
<line x1="675.4" y1="200.3" x2="675.4" y2="202.3" stroke="#333" stroke-width="1"/>
<text x="675.4" y="208.8" font-size="8" text-anchor="middle" textLength="15.1" lengthAdjust="spacingAndGlyphs" fill="#333" stroke="#333" stroke-width="0.12">2500</text>
<text x="586.1" y="219.2" font-size="8.5" text-anchor="middle" textLength="43.0" lengthAdjust="spacingAndGlyphs" fill="#1a1a1a" stroke="#1a1a1a" stroke-width="0.15">Time (days)</text>
<text transform="translate(466.9,169.3) rotate(-90)" x="0" y="0" font-size="7.7" fill="#1a1a1a" stroke="#1a1a1a" stroke-width="0.2" textLength="117.6" lengthAdjust="spacingAndGlyphs">Probability of no repeat surgery</text>
<text x="500.5" y="163.1" font-size="8.6" textLength="38.7" lengthAdjust="spacingAndGlyphs" fill="#1a1a1a" stroke="#1a1a1a" stroke-width="0.15">p &lt; 0.0001</text>
<text x="454.6" y="10.1" font-size="12" font-weight="bold" textLength="9.3" lengthAdjust="spacingAndGlyphs" fill="#000">c)</text>
<text x="485.9" y="10.1" font-size="12" font-weight="bold" textLength="56.9" lengthAdjust="spacingAndGlyphs" fill="#000">Adhesions</text>
<rect x="488.2" y="225.8" width="14.2" height="14.3" fill="#FED8D5"/>
<rect x="488.2" y="241.7" width="14.2" height="14.3" fill="#C4EBEE"/>
<line x1="489.4" y1="233" x2="501.2" y2="233" stroke="#F8766D" stroke-width="1.5"/>
<line x1="495.4" y1="230.2" x2="495.4" y2="236" stroke="#F8766D" stroke-width="1.3"/>
<line x1="489.4" y1="248.6" x2="501.2" y2="248.6" stroke="#00BFC4" stroke-width="1.5"/>
<line x1="495.4" y1="245.8" x2="495.4" y2="251.6" stroke="#00BFC4" stroke-width="1.3"/>
<text x="505.7" y="236.6" font-size="7.6" textLength="45.5" lengthAdjust="spacingAndGlyphs" fill="#1a1a1a" stroke="#1a1a1a" stroke-width="0.2">No, adhesions</text>
<text x="505.7" y="252.3" font-size="7.6" textLength="47.6" lengthAdjust="spacingAndGlyphs" fill="#1a1a1a" stroke="#1a1a1a" stroke-width="0.2">Yes, adhesions</text>
</g>
</svg></body></html>
